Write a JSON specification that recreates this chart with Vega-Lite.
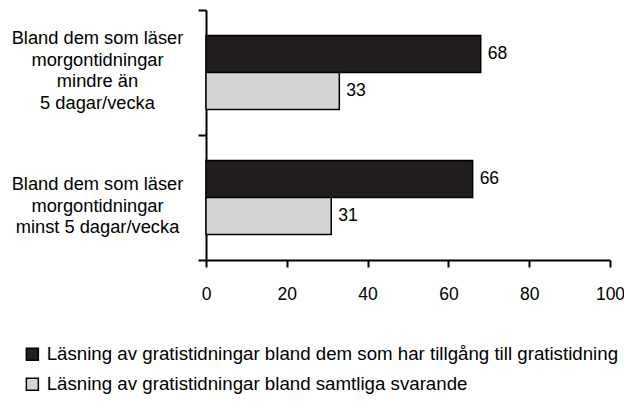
{
  "$schema": "https://vega.github.io/schema/vega-lite/v6.json",
  "width": 404,
  "height": 250,
  "autosize": {"type": "none"},
  "padding": {"left": 206, "top": 10, "right": 14, "bottom": 145},
  "background": "white",
  "config": {
    "font": "Liberation Sans",
    "view": {"stroke": null},
    "axis": {"grid": false, "domainColor": "#000000", "tickColor": "#000000", "labelColor": "#000000", "domainWidth": 2, "tickWidth": 2, "labelFont": "Liberation Sans", "labelFontSize": 17.5}
  },
  "data": {
    "values": [
      {"grupp": "Bland dem som läser\nmorgontidningar\nmindre än\n5 dagar/vecka", "serie": "Läsning av gratistidningar bland dem som har tillgång till gratistidning", "andel": 68},
      {"grupp": "Bland dem som läser\nmorgontidningar\nmindre än\n5 dagar/vecka", "serie": "Läsning av gratistidningar bland samtliga svarande", "andel": 33},
      {"grupp": "Bland dem som läser\nmorgontidningar\nminst 5 dagar/vecka", "serie": "Läsning av gratistidningar bland dem som har tillgång till gratistidning", "andel": 66},
      {"grupp": "Bland dem som läser\nmorgontidningar\nminst 5 dagar/vecka", "serie": "Läsning av gratistidningar bland samtliga svarande", "andel": 31}
    ]
  },
  "encoding": {
    "y": {
      "field": "grupp", "type": "nominal", "sort": null,
      "scale": {"paddingInner": 0, "paddingOuter": 0},
      "axis": {
        "title": null, "tickBand": "extent", "tickSize": 8, "labelAlign": "center", "labelPadding": 101,
        "labelExpr": "split(datum.label, '\\n')", "labelLineHeight": 21.5, "labelBaseline": "middle",
        "labelFontSize": 18.3,
        "labelOffset": {"condition": {"test": "indexof(datum.label, 'mindre') >= 0", "value": -34}, "value": -13}
      }
    },
    "yOffset": {
      "field": "serie", "type": "nominal", "sort": null,
      "scale": {"paddingInner": 0, "paddingOuter": 0.69}
    },
    "x": {
      "field": "andel", "type": "quantitative",
      "scale": {"domain": [0, 100], "nice": false},
      "axis": {"title": null, "values": [0, 20, 40, 60, 80, 100], "tickSize": 7, "labelPadding": 18, "labelFlush": false}
    }
  },
  "layer": [
    {
      "mark": {"type": "bar", "stroke": "#000000", "strokeWidth": 1.5},
      "encoding": {
        "color": {
          "field": "serie", "type": "nominal", "sort": null,
          "scale": {"range": ["#221e1f", "#d4d4d6"]},
          "legend": {
            "title": null, "orient": "none", "legendX": -183, "legendY": 335,
            "direction": "vertical", "symbolType": "square", "symbolSize": 144,
            "symbolStrokeColor": "#000000", "symbolStrokeWidth": 1.5,
            "labelFontSize": 18.7, "labelColor": "#000000", "labelLimit": 0, "labelOffset": 5,
            "rowPadding": 10
          }
        }
      }
    },
    {
      "mark": {"type": "text", "align": "left", "baseline": "middle", "dx": 7, "fontSize": 17.5, "color": "#000000"},
      "encoding": {"text": {"field": "andel", "type": "quantitative"}}
    }
  ]
}
